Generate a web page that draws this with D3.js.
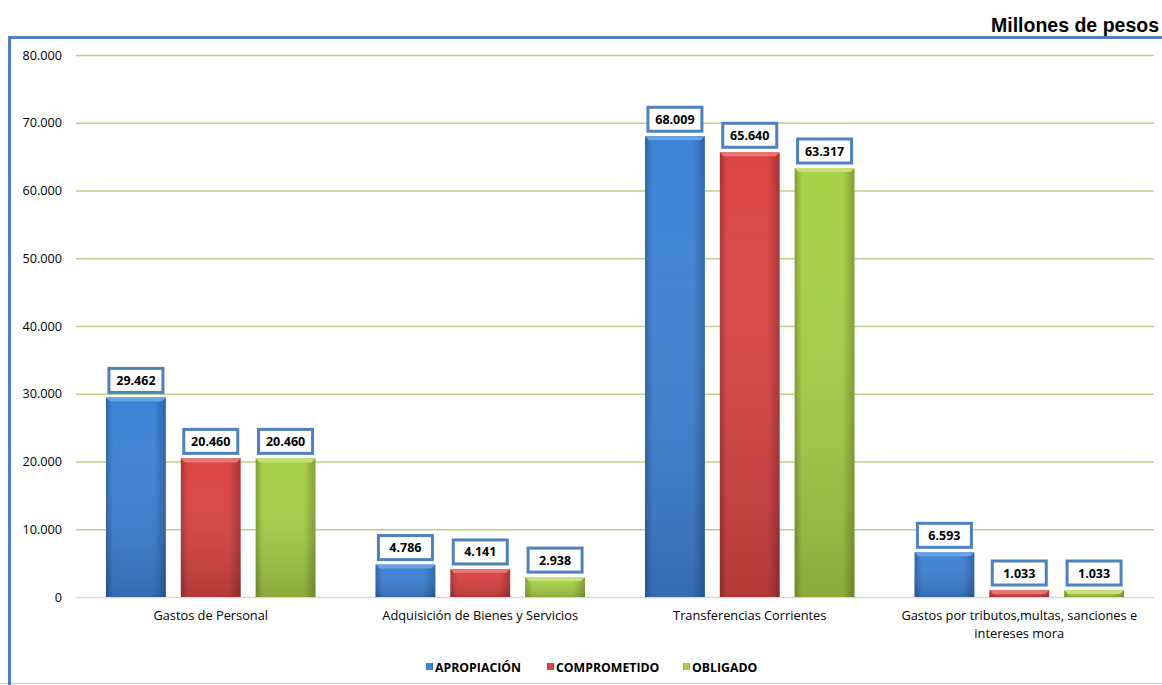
<!DOCTYPE html>
<html>
<head>
<meta charset="utf-8">
<script src="https://cdn.jsdelivr.net/npm/d3@7"></script>
<style>
  body { margin: 0; background: #fff; }
  svg { display: block; }
</style>
</head>
<body>
<svg id="chart"></svg>
<script>
var categories = [
  ['Gastos de Personal'],
  ['Adquisición de Bienes y Servicios'],
  ['Transferencias Corrientes'],
  ['Gastos por tributos,multas, sanciones e', 'intereses mora']
];
var seriesNames = ['APROPIACIÓN', 'COMPROMETIDO', 'OBLIGADO'];
var apropiacion = [29462, 4786, 68009, 6593];
var comprometido = [20460, 4141, 65640, 1033];
var obligado = [20460, 2938, 63317, 1033];
var yTicks = [0, 10000, 20000, 30000, 40000, 50000, 60000, 70000, 80000];

var seriesValues = [apropiacion, comprometido, obligado];
var seriesColors = [
  {mid: '#3f83d6', edge: '#2c63a8', top: '#6aa2e6'},
  {mid: '#da4444', edge: '#a83232', top: '#ea7474'},
  {mid: '#a8d048', edge: '#7f9f32', top: '#c4e276'}
];

var width = 1162, height = 685;
var svg = d3.select('#chart').attr('width', width).attr('height', height);

var locale = d3.formatLocale({decimal: ',', thousands: '.', grouping: [3], currency: ['', '']});
var fmt = locale.format(',d');

var x0 = d3.scaleBand().domain(d3.range(categories.length)).range([76, 1154]);
var x1 = d3.scaleBand().domain(d3.range(seriesNames.length))
  .range([30, x0.bandwidth() - 30]).paddingInner(0.2);
var y = d3.scaleLinear().domain([0, 80000]).range([597, 55]);

// outer frame: blue left/top, thin grey bottom
svg.append('line').attr('x1', 0).attr('x2', width).attr('y1', 683.5).attr('y2', 683.5)
  .attr('stroke', '#d4d8dc').attr('stroke-width', 1.5);
svg.append('path')
  .attr('d', 'M9.5,685V37.5H' + width)
  .attr('fill', 'none')
  .attr('stroke', '#4f81bd')
  .attr('stroke-width', 3);

svg.append('text')
  .attr('x', 1159).attr('y', 32)
  .attr('text-anchor', 'end')
  .style('font-family', 'Liberation Sans, Arial, sans-serif')
  .style('font-weight', 'bold')
  .style('font-size', '19.5px')
  .text('Millones de pesos');

// gradients
var defs = svg.append('defs');
seriesColors.forEach(function(c, i) {
  var g = defs.append('linearGradient').attr('id', 'grad' + i)
    .attr('x1', '0%').attr('x2', '100%').attr('y1', '0%').attr('y2', '0%');
  g.append('stop').attr('offset', '0%').attr('stop-color', c.edge);
  g.append('stop').attr('offset', '12%').attr('stop-color', c.mid);
  g.append('stop').attr('offset', '80%').attr('stop-color', c.mid);
  g.append('stop').attr('offset', '100%').attr('stop-color', c.edge);
  var v = defs.append('linearGradient').attr('id', 'vgrad' + i)
    .attr('x1', '0%').attr('x2', '0%').attr('y1', '0%').attr('y2', '100%');
  v.append('stop').attr('offset', '0%').attr('stop-color', '#fff').attr('stop-opacity', 0);
  v.append('stop').attr('offset', '100%').attr('stop-color', '#000').attr('stop-opacity', 0.18);
});

// grid / y axis
var yAxis = d3.axisLeft(y).tickValues(yTicks).tickFormat(fmt)
  .tickSize(-(1154 - 76)).tickPadding(14);
var gy = svg.append('g').attr('transform', 'translate(76,0)').call(yAxis);
gy.select('.domain').remove();
gy.selectAll('.tick line').attr('stroke', function(d) { return d === 0 ? '#d6d9cc' : '#b9d18a'; })
  .attr('stroke-width', 1.5);
gy.selectAll('.tick text')
  .style('font-family', 'Open Sans, sans-serif')
  .style('font-size', '12.7px')
  .attr('fill', '#000');

// bars
var groups = svg.append('g').selectAll('g').data(categories).join('g')
  .attr('transform', function(d, i) { return 'translate(' + x0(i) + ',0)'; });

groups.each(function(cat, ci) {
  var g = d3.select(this);
  seriesValues.forEach(function(vals, si) {
    var v = vals[ci];
    var bx = x1(si), bw = x1.bandwidth(), by = y(v), bh = y(0) - y(v);
    g.append('rect').attr('x', bx).attr('y', by).attr('width', bw).attr('height', bh)
      .attr('fill', 'url(#grad' + si + ')');
    g.append('rect').attr('x', bx).attr('y', by).attr('width', bw).attr('height', bh)
      .attr('fill', 'url(#vgrad' + si + ')');
    var bev = Math.min(4, bh);
    g.append('path')
      .attr('d', 'M' + bx + ',' + by + 'L' + (bx + bw) + ',' + by + 'L' + (bx + bw - 4) + ',' + (by + bev) + 'L' + (bx + 4) + ',' + (by + bev) + 'Z')
      .attr('fill', seriesColors[si].top);

    // value box
    var cx = bx + bw / 2;
    g.append('rect')
      .attr('x', cx - 27).attr('y', by - 29)
      .attr('width', 54).attr('height', 24)
      .attr('fill', '#fff')
      .attr('stroke', '#4f81bd')
      .attr('stroke-width', 3);
    g.append('text')
      .attr('x', cx).attr('y', by - 12.5)
      .attr('text-anchor', 'middle')
      .style('font-family', 'Open Sans, sans-serif')
      .style('font-weight', 'bold')
      .style('font-size', '12.5px')
      .text(fmt(v));
  });

  var t = g.append('text')
    .attr('x', x0.bandwidth() / 2).attr('y', 620)
    .attr('text-anchor', 'middle')
    .style('font-family', 'Open Sans, sans-serif')
    .style('font-size', '12.8px');
  cat.forEach(function(line, li) {
    t.append('tspan').attr('x', x0.bandwidth() / 2).attr('dy', li === 0 ? 0 : 18).text(line);
  });
});

// legend
var legendX = [426, 547, 683];
var legend = svg.append('g').selectAll('g').data(seriesNames).join('g')
  .attr('transform', function(d, i) { return 'translate(' + legendX[i] + ',667)'; });
legend.append('rect').attr('x', 0).attr('y', -4).attr('width', 7).attr('height', 7)
  .attr('fill', function(d, i) { return 'url(#grad' + i + ')'; });
legend.append('text').attr('x', 9).attr('y', 4.5)
  .style('font-family', 'Open Sans, sans-serif')
  .style('font-weight', 'bold')
  .style('font-size', '12.3px')
  .text(function(d) { return d; });
</script>
</body>
</html>
